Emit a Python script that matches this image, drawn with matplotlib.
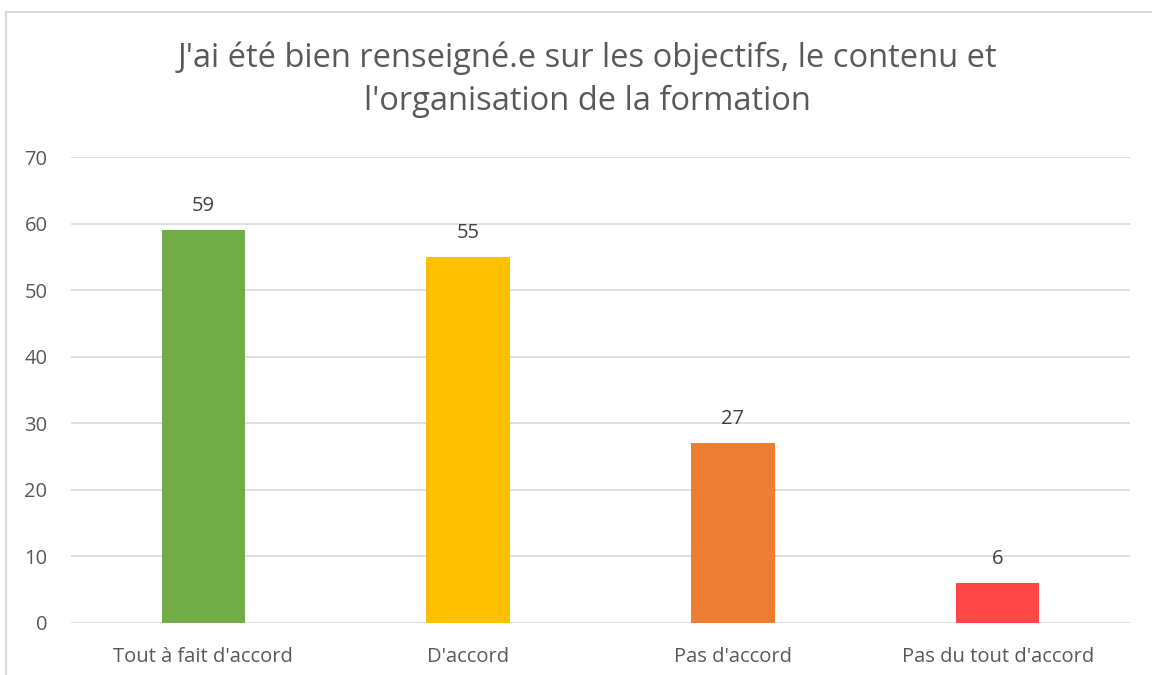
import matplotlib.pyplot as plt
from matplotlib.patches import Rectangle

categories = ["Tout à fait d'accord", "D'accord", "Pas d'accord", "Pas du tout d'accord"]
values = [59, 55, 27, 6]
colors = ["#70AD47", "#FFC000", "#ED7D31", "#FF4747"]
title = "J'ai été bien renseigné.e sur les objectifs, le contenu et\nl'organisation de la formation"

TEXT = "#595959"
GRID = "#D9D9D9"

plt.rcParams['font.family'] = ['Open Sans', 'DejaVu Sans']

fig = plt.figure(figsize=(11.52, 6.75), dpi=100)
ax = fig.add_axes([71 / 1152, 1 - 623 / 675, (1130 - 71) / 1152, (623 - 157) / 675])

x = range(len(categories))
bars = ax.bar(x, values, width=0.315, color=colors, zorder=3)
for b, v in zip(bars, values):
    ax.annotate(str(v), (b.get_x() + b.get_width() / 2, v), xytext=(0, 10),
                textcoords='offset points', ha='center', va='bottom',
                fontsize=14.5, color="#404040")

ax.set_ylim(0, 70)
ax.set_yticks(range(0, 71, 10))
ax.set_xlim(-0.5, len(categories) - 0.5)
ax.set_xticks(list(x))
ax.set_xticklabels(categories)
ax.grid(axis='y', color=GRID, linewidth=1.2, zorder=0)
for s in ax.spines.values():
    s.set_visible(False)
ax.tick_params(length=0, labelsize=14.5, colors=TEXT, pad=17)
ax.tick_params(axis='y', pad=17)

fig.text(0.51, 1 - 80 / 675, title, ha='center', va='center', fontsize=23.5,
         color=TEXT, linespacing=1.4)

# chart frame (left and top edges visible)
fig.patches.append(Rectangle((6 / 1152, -0.1), 1.2, 1 - 12 / 675 + 0.1,
                             transform=fig.transFigure, fill=False,
                             edgecolor=GRID, linewidth=1.5))

fig.savefig("out.png", dpi=100)
